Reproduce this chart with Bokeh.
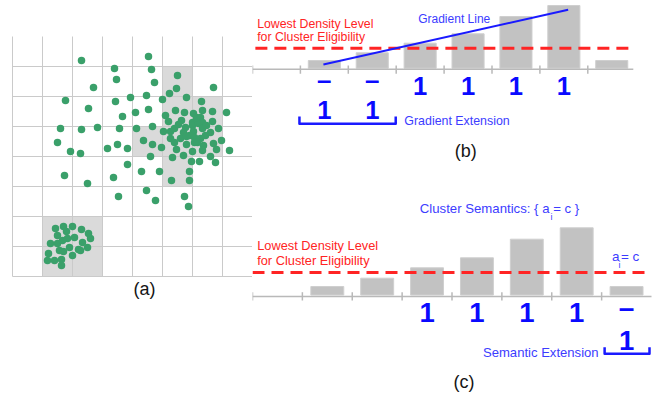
from bokeh.plotting import figure
from bokeh.models import Range1d
from bokeh.layouts import row, column
from bokeh.embed import file_html
from bokeh.resources import INLINE
from bokeh.core.properties import value

FONT = "Liberation Sans"
GREEN = "#3aa06a"
CELL = "#dadada"
GRIDC = "#cacaca"
BAR = "#c2c2c2"
BAR_EDGE = "#cfcfcf"
RED = "#ff2424"
BLUE_BIG = "#0a0aff"
BLUE_TXT = "#3c3cff"
AXIS = "#b9b9b9"
BLACK = "#151515"

# ---------------- panel (a) data: grid units of 30 ----------------
grid_lines = [0, 30, 60, 90, 120, 150, 180, 210]
grid_extent_x = 240
grid_extent_y = 240
dense_left = [30, 150, 180, 120]
dense_right = [90, 180, 210, 150]
dense_bottom = [0, 90, 120, 120]
dense_top = [60, 210, 180, 150]

points_sparse = [
    (69, 216), (136, 220), (102, 208), (139, 207), (104, 197), (142, 194), (165, 201), (81, 189),
    (201, 189), (164, 188), (157, 183), (53, 176), (103, 175), (118, 179), (134, 181), (150, 177),
    (174, 179), (189, 175), (76, 168), (136, 167), (123, 164), (110, 160), (214, 164), (48, 148),
    (69, 147), (85, 149), (107, 148), (124, 148), (140, 150), (45, 134), (58, 125), (68, 123),
    (95, 128), (105, 132), (115, 128), (131, 136), (140, 132), (149, 129), (138, 120), (115, 112),
    (129, 105), (147, 105), (101, 99), (52, 101), (75, 93), (159, 96), (177, 96), (177, 105),
    (106, 80), (134, 86), (143, 76), (172, 80), (176, 70), (217, 126), (203, 114), (187, 115),
    (179, 115), (160, 119), (198, 120), (209, 136), (206, 148), (204, 127), (171, 121),
]
points_dense = [
    (163, 166), (172, 164), (181, 163), (190, 166), (200, 165), (153, 161), (156, 155), (169, 156),
    (180, 154), (188, 159), (190, 154), (200, 155), (162, 148), (173, 149), (180, 151), (186, 153),
    (190, 148), (151, 145), (171, 144), (181, 145), (198, 144), (158, 138), (168, 138), (177, 141),
    (182, 139), (188, 138), (193, 141), (162, 134), (174, 132), (182, 134), (191, 131), (201, 133),
    (164, 127), (180, 125), (190, 126), (166, 152), (185, 134), (194, 151), (174, 140), (158, 145),
    (184, 159),
]
points_corner = [
    (43, 48), (51, 50), (60, 50), (69, 47), (76, 43), (45, 41), (54, 45), (55, 38), (62, 39),
    (78, 38), (38, 33), (45, 33), (50, 36), (70, 34), (57, 29), (66, 27), (75, 29), (36, 23),
    (47, 26), (51, 25), (60, 21), (68, 26), (35, 16), (42, 16), (49, 17), (49, 11),
]

# ---------------- panels (b) and (c) data ----------------
bins = [1, 2, 3, 4, 5, 6, 7]
tick_bins = [0, 1, 2, 3, 4, 5, 6, 7]
density_b = [8.7, 16.4, 26, 35.4, 52.7, 63.7, 8.7]
density_c = [10, 18.3, 28.7, 38.7, 57.3, 68.7, 10]
threshold_b = 21
threshold_c = 24
b_dash_bins = [1, 2]
b_one_bins = [3, 4, 5, 6]
b_ext_bins = [1, 2]
c_one_bins = [3, 4, 5, 6]
c_dash_bins = [7]
c_ext_bins = [7]
gradient_x = [1.48, 6.59]
gradient_y = [4.7, 59.4]


def base_fig(w, h, xr, yr):
    p = figure(width=w, height=h, x_range=Range1d(*xr), y_range=Range1d(*yr),
               output_backend="svg", toolbar_location=None, min_border=0)
    p.axis.visible = False
    p.grid.visible = False
    p.outline_line_color = None
    p.background_fill_color = "white"
    p.border_fill_color = "white"
    return p


def txt(p, x, y, s, size, color, align="left", mid=False, bold=False):
    # y is the alphabetic baseline (unless mid=True); drawn with a 'middle' baseline
    if not mid:
        y = y + 0.31 * size
    p.text(x=[x], y=[y], text=[s], text_font=value(FONT), text_font_size=value(f"{size}px"),
           text_color=color, text_align=align, text_baseline="middle",
           text_font_style="bold" if bold else "normal")


# ---------------- figure (a) ----------------
pa = base_fig(252, 399, (-12, 240), (-123, 276))
pa.quad(left=dense_left, right=dense_right, bottom=dense_bottom, top=dense_top,
        fill_color=CELL, line_color=None)
pa.segment(x0=grid_lines, y0=[0] * len(grid_lines), x1=grid_lines, y1=[grid_extent_y] * len(grid_lines),
           line_color=GRIDC, line_width=1)
pa.segment(x0=[0] * len(grid_lines), y0=grid_lines, x1=[grid_extent_x] * len(grid_lines), y1=grid_lines,
           line_color=GRIDC, line_width=1)
allpts = points_sparse + points_dense + points_corner
pa.scatter(x=[q[0] for q in allpts], y=[q[1] for q in allpts], size=7.5,
           fill_color=GREEN, line_color=None)
txt(pa, 132, -12, "(a)", 18, BLACK, "center", mid=True)

# ---------------- figure (b) ----------------
pb = base_fig(407, 186, (0, 407 / 47.9), (-117.3, 68.7))
centers_b = [b + 0.5 for b in bins]
pb.vbar(x=centers_b, width=0.67, bottom=1, top=density_b, fill_color=BAR, line_color=BAR_EDGE)
pb.segment(x0=[0], y0=[0], x1=[7.95], y1=[0], line_color=AXIS, line_width=1.5)
pb.segment(x0=tick_bins, y0=[-4.6] * 8, x1=tick_bins, y1=[3.7] * 8, line_color=AXIS, line_width=1.5)
pb.line(x=[0.06, 7.95], y=[threshold_b, threshold_b], line_color=RED, line_width=3, line_dash="12 7")
pb.line(x=gradient_x, y=gradient_y, line_color="#1a1aff", line_width=2)
txt(pb, 0.098, 41.7, "Lowest Density Level", 12.3, RED)
txt(pb, 0.098, 28.0, "for Cluster Eligibility", 12.3, RED)
txt(pb, 3.459, 46.4, "Gradient Line", 12, BLUE_TXT)
for b in b_dash_bins:
    txt(pb, b + 0.5, -10.3, "\u2013", 26, BLUE_BIG, "center", mid=True, bold=True)
for b in b_one_bins:
    txt(pb, b + 0.5, -24.6, "1", 25.6, BLUE_BIG, "center", bold=True)
for b in b_ext_bins:
    txt(pb, b + 0.5, -49, "1", 25.6, BLUE_BIG, "center", bold=True)
pb.multi_line(xs=[[0.98, 0.98, 2.99, 2.99]], ys=[[-47.3, -54.6, -54.6, -47.3]],
              line_color="#1a1aff", line_width=2.5, line_join="round")
txt(pb, 3.17, -55.3, "Gradient Extension", 12.4, BLUE_TXT)
txt(pb, 4.45, -81.3, "(b)", 18, BLACK, "center", mid=True)

# ---------------- figure (c) ----------------
pc = base_fig(407, 213, (0, 407 / 49.875), (-103, 110))
centers_c = [b + 0.5 for b in bins]
pc.vbar(x=centers_c, width=0.66, bottom=1.5, top=density_c, fill_color=BAR, line_color=BAR_EDGE)
pc.segment(x0=[0], y0=[0], x1=[8.0], y1=[0], line_color=AXIS, line_width=1.5)
pc.segment(x0=tick_bins, y0=[-4.0] * 8, x1=tick_bins, y1=[4.3] * 8, line_color=AXIS, line_width=1.5)
pc.line(x=[0, 8.0], y=[threshold_c, threshold_c], line_color=RED, line_width=3, line_dash="12 7")
txt(pc, 0.094, 46.7, "Lowest Density Level", 12.8, RED)
txt(pc, 0.094, 32.0, "for Cluster Eligibility", 12.8, RED)
txt(pc, 3.354, 83.7, "Cluster Semantics: { a", 13.2, BLUE_TXT)
txt(pc, 5.975, 76.7, "i", 9, BLUE_TXT)
txt(pc, 6.029, 83.7, "= c }", 13.2, BLUE_TXT)
txt(pc, 7.208, 36.0, "a", 13.5, BLUE_TXT)
txt(pc, 7.338, 28.7, "i", 9, BLUE_TXT)
txt(pc, 7.388, 36.0, "= c", 13.5, BLUE_TXT)
for b in c_one_bins:
    txt(pc, b + 0.5, -24.7, "1", 27.5, BLUE_BIG, "center", bold=True)
for b in c_dash_bins:
    txt(pc, b + 0.5, -10.7, "\u2013", 28, BLUE_BIG, "center", mid=True, bold=True)
for b in c_ext_bins:
    txt(pc, b + 0.5, -52.3, "1", 27.5, BLUE_BIG, "center", bold=True)
pc.multi_line(xs=[[7.06, 7.06, 7.96, 7.96]], ys=[[-50.7, -57.3, -57.3, -50.7]],
              line_color="#1a1aff", line_width=2.5, line_join="round")
txt(pc, 4.62, -59.7, "Semantic Extension", 13.1, BLUE_TXT)
txt(pc, 4.24, -85.7, "(c)", 18, BLACK, "center", mid=True)

layout = row(pa, column(pb, pc))
open("out.html", "w").write(file_html(layout, INLINE))
